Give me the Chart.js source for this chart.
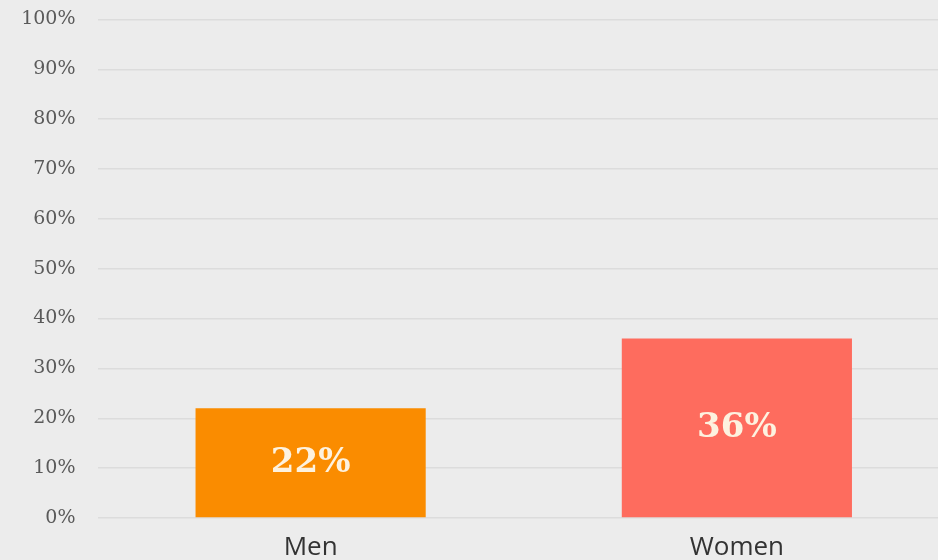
<!DOCTYPE html>
<html>
<head>
<meta charset="utf-8">
<script src="https://cdn.jsdelivr.net/npm/chart.js@4"></script>
<style>
  html, body { margin: 0; padding: 0; background: #ececec; overflow: hidden; }
  #clip { width: 938px; height: 560px; overflow: hidden; }
  #wrap { width: 950px; height: 574px; margin-top: -14px; }
</style>
</head>
<body>
<div id="clip"><div id="wrap"><canvas id="genderChart"></canvas></div></div>
<script>
// DATA
const groups = ["Men", "Women"];
const shares = [22, 36];
const barColors = ["#fa8c00", "#fe6c5e"];
const yTicks = [0, 10, 20, 30, 40, 50, 60, 70, 80, 90, 100];

// value labels drawn in the middle of each bar
const barValueLabels = {
  id: "barValueLabels",
  afterDatasetsDraw(chart) {
    const ctx = chart.ctx;
    const meta = chart.getDatasetMeta(0);
    ctx.save();
    ctx.fillStyle = "#fdf2df";
    ctx.font = "bold 34px 'DejaVu Serif', serif";
    ctx.textAlign = "center";
    ctx.textBaseline = "middle";
    meta.data.forEach((bar, i) => {
      const midY = (bar.y + bar.base) / 2;
      ctx.fillText(shares[i] + "%", bar.x, midY);
    });
    ctx.restore();
  }
};

// GENDER BAR CHART
new Chart(document.getElementById("genderChart"), {
  type: "bar",
  data: {
    labels: groups,
    datasets: [{
      data: shares,
      backgroundColor: barColors,
      borderWidth: 0,
      categoryPercentage: 1,
      barPercentage: 0.54
    }]
  },
  options: {
    responsive: true,
    maintainAspectRatio: false,
    animation: false,
    layout: {
      padding: { top: 1, right: 0, bottom: 0, left: 0 }
    },
    plugins: {
      legend: { display: false },
      tooltip: { enabled: false }
    },
    scales: {
      x: {
        grid: { display: false },
        border: { display: false },
        ticks: {
          color: "#333",
          padding: 6,
          font: { family: "'Open Sans', sans-serif", size: 26 }
        },
        afterFit(scale) { scale.height = 42; }
      },
      y: {
        min: 0,
        max: 100,
        afterBuildTicks(scale) {
          scale.ticks = yTicks.map(v => ({ value: v }));
        },
        grid: { color: "#dcdcdc", lineWidth: 1.5, drawTicks: false },
        border: { display: false },
        ticks: {
          color: "#5a5a5a",
          padding: 22,
          font: { family: "'DejaVu Serif', serif", size: 19 },
          callback: (v) => v + "%"
        },
        afterFit(scale) { scale.width = 97.5; }
      }
    }
  },
  plugins: [barValueLabels]
});
</script>
</body>
</html>
